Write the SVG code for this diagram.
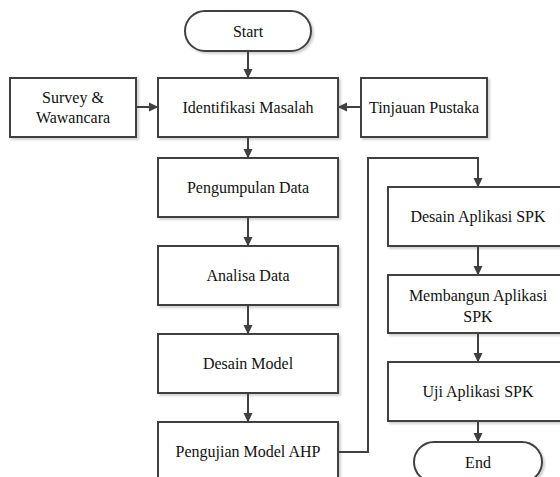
<svg xmlns="http://www.w3.org/2000/svg" width="560" height="477" viewBox="0 0 560 477">
<defs>
<marker id="ah" markerWidth="10" markerHeight="10" refX="9" refY="5" orient="auto" markerUnits="userSpaceOnUse">
<path d="M0,0.5 L9.5,5 L0,9.5 Z" fill="#404040"/>
</marker>
<filter id="sh" x="-10%" y="-10%" width="130%" height="140%">
<feDropShadow dx="2" dy="2" stdDeviation="1" flood-color="#000" flood-opacity="0.18"/>
</filter>
</defs>
<style>
.b{fill:#fff;stroke:#404040;stroke-width:2;filter:url(#sh)}
.t{font-size:16px;fill:#111;text-anchor:middle}
.c{fill:none;stroke:#404040;stroke-width:2}
</style>
<rect width="560" height="477" fill="#fff"/>
<g font-family="Liberation Serif, serif">
<g id="start"><rect class="b" x="185" y="11" width="126" height="40" rx="20"/><text class="t" x="248" y="36.5">Start</text></g>
<g id="identifikasi"><rect class="b" x="158" y="78" width="180" height="59"/><text class="t" x="248" y="113">Identifikasi Masalah</text></g>
<g id="survey"><rect class="b" x="10" y="78" width="126" height="59"/><text class="t" x="73" y="103">Survey &amp;</text><text class="t" x="73" y="123">Wawancara</text></g>
<g id="tinjauan"><rect class="b" x="361" y="78" width="126" height="59"/><text class="t" x="424" y="113">Tinjauan Pustaka</text></g>
<g id="pengumpulan"><rect class="b" x="158" y="158" width="180" height="59"/><text class="t" x="248" y="193">Pengumpulan Data</text></g>
<g id="analisa"><rect class="b" x="158" y="246" width="180" height="59"/><text class="t" x="248" y="281">Analisa Data</text></g>
<g id="desainmodel"><rect class="b" x="158" y="334" width="180" height="59"/><text class="t" x="248" y="369">Desain Model</text></g>
<g id="pengujian"><rect class="b" x="158" y="422" width="180" height="59"/><text class="t" x="248" y="457">Pengujian Model AHP</text></g>
<g id="desainapp"><rect class="b" x="388" y="187" width="180" height="59"/><text class="t" x="478" y="222">Desain Aplikasi SPK</text></g>
<g id="membangun"><rect class="b" x="388" y="275" width="180" height="58"/><text class="t" x="478" y="301">Membangun Aplikasi</text><text class="t" x="478" y="322">SPK</text></g>
<g id="uji"><rect class="b" x="388" y="362" width="180" height="59"/><text class="t" x="478" y="397">Uji Aplikasi SPK</text></g>
<g id="end"><rect class="b" x="414" y="442" width="128" height="40" rx="20"/><text class="t" x="478" y="467.5">End</text></g>
</g>
<g id="connectors">
<path class="c" d="M248,51 V78" marker-end="url(#ah)"/>
<path class="c" d="M136,107 H158" marker-end="url(#ah)"/>
<path class="c" d="M361,107 H338" marker-end="url(#ah)"/>
<path class="c" d="M248,137 V158" marker-end="url(#ah)"/>
<path class="c" d="M248,217 V246" marker-end="url(#ah)"/>
<path class="c" d="M248,305 V334" marker-end="url(#ah)"/>
<path class="c" d="M248,393 V422" marker-end="url(#ah)"/>
<path class="c" d="M338,452 H368 V158 H478 V187" marker-end="url(#ah)"/>
<path class="c" d="M478,246 V275" marker-end="url(#ah)"/>
<path class="c" d="M478,333 V362" marker-end="url(#ah)"/>
<path class="c" d="M478,421 V442" marker-end="url(#ah)"/>
</g>
</svg>
